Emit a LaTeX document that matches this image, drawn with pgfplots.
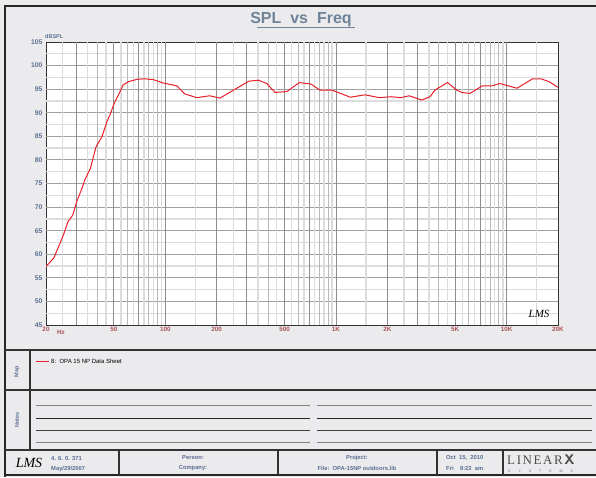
\documentclass[border=0pt]{standalone}
\usepackage{fontspec}
\setmainfont{Liberation Sans}
\newfontfamily\seriffont{Liberation Serif}
\usepackage{pgfplots}
\pgfplotsset{compat=1.18}
\definecolor{bg}{HTML}{EBEBEE}
\definecolor{ttl}{HTML}{6E8298}
\definecolor{ylab}{HTML}{5C7292}
\definecolor{xlab}{HTML}{A85252}
\definecolor{curve}{HTML}{E8202A}
\definecolor{gdark}{HTML}{8E8E8E}
\definecolor{gmed}{HTML}{B8B8B8}
\definecolor{glight}{HTML}{DCDCDC}
\definecolor{ftxt}{HTML}{5A6E90}
\pgfplotstableread{
f db
20 57.4
22.2 59.2
23.7 61.6
25.3 64.1
26.9 66.9
28.7 68.3
30.3 71.2
32.5 74.0
33.8 75.8
36.4 78.2
39.3 82.8
42.5 84.9
45.5 88.1
47.6 89.7
50.3 92.1
53.2 93.8
56.6 95.9
60.9 96.6
68.5 97.1
76 97.2
85.4 97.0
97.5 96.3
117 95.7
130 94.0
153 93.2
182 93.6
209 93.1
251 94.8
309 96.7
352 96.9
393 96.2
440 94.3
516 94.5
610 96.4
712 96.1
806 94.8
947 94.8
1213 93.3
1480 93.8
1800 93.2
2100 93.4
2400 93.2
2680 93.6
3180 92.7
3560 93.4
3800 94.8
4500 96.4
5100 94.8
5470 94.3
6100 94.1
7200 95.7
8200 95.7
9100 96.2
11500 95.2
14200 97.2
15900 97.2
17700 96.6
20000 95.4
}\spl
\begin{document}
\begin{tikzpicture}
\path[use as bounding box, fill=bg] (0,0) rectangle (596pt,-477pt);
% outer frame
\draw[line width=2.5pt, black!85] (5pt,-477pt) -- (5pt,-6pt) -- (596pt,-6pt);
% title
\node[text=ttl, font=\fontsize{16}{18}\selectfont\bfseries] (T) at (301pt,-20pt) {SPL\ \ vs\ \ Freq};
\draw[ttl, line width=1.2pt] (T.south west)++(10pt,3pt) -- ([yshift=3pt]T.south east);
\node[text=ylab, font=\fontsize{5.5}{6}\selectfont\bfseries, anchor=south west, inner sep=0pt] at (45pt,-39pt) {dBSPL};
\begin{axis}[
  at={(46pt,-325pt)}, anchor=south west,
  scale only axis, width=512pt, height=283pt,
  xmode=log, xmin=20, xmax=20000, ymin=45, ymax=105,
  axis background/.style={fill=white},
  axis line style={draw=black!80, line width=1pt},
  tick style={draw=none},
  xtick={20,50,100,200,500,1000,2000,5000,10000,20000},
  xticklabels={20,50,100,200,500,1K,2K,5K,10K,20K},
  ytick={45,50,...,105},
  /pgf/number format/assume math mode=true,
  x tick label style={font=\fontsize{6.3}{7}\selectfont\bfseries, text=xlab, yshift=1pt},
  y tick label style={font=\fontsize{6.8}{7}\selectfont\bfseries, text=ylab},
  clip=true,
]
% horizontal grid
\pgfplotsinvokeforeach{47.5,52.5,57.5,62.5,67.5,72.5,77.5,82.5,87.5,92.5,97.5,102.5}{
  \draw[glight, line width=1.4pt] (axis cs:20,#1) -- (axis cs:20000,#1);}
\pgfplotsinvokeforeach{50,55,...,100}{
  \draw[gdark!85, line width=0.9pt] (axis cs:20,#1) -- (axis cs:20000,#1);}
% vertical grid
\pgfplotsinvokeforeach{25,35,45,55,65,75,85,95,150,250,350,450,550,650,750,850,950,1500,2500,3500,4500,5500,6500,7500,8500,9500,15000}{
  \draw[glight, line width=1.4pt] (axis cs:#1,45) -- (axis cs:#1,105);}
\pgfplotsinvokeforeach{40,60,80,90,400,600,800,900,4000,6000,8000,9000}{
  \draw[gmed, line width=1.1pt] (axis cs:#1,45) -- (axis cs:#1,105);}
\pgfplotsinvokeforeach{30,50,70,100,200,300,500,700,1000,2000,3000,5000,7000,10000}{
  \draw[gdark, line width=0.9pt] (axis cs:#1,45) -- (axis cs:#1,105);}
\addplot[curve, line width=1pt, no marks] table[x=f, y=db] {\spl};
\end{axis}
\node[text=xlab, font=\fontsize{6.3}{7}\selectfont\bfseries] at (61pt,-332.5pt) {Hz};
\node[font=\fontsize{11}{12}\selectfont\itshape\seriffont, anchor=east] at (553pt,-314pt) {LMS};
% lower boxes
\draw[line width=2pt, black!80] (5pt,-350pt) -- (596pt,-350pt);
\draw[line width=2pt, black!80] (5pt,-390pt) -- (596pt,-390pt);
\draw[line width=2pt, black!80] (5pt,-450pt) -- (596pt,-450pt);
\draw[line width=2pt, black!85] (5pt,-475pt) -- (596pt,-475pt);
\draw[line width=1.2pt, black!80] (30pt,-350pt) -- (30pt,-450pt);
\node[rotate=90, text=ftxt, font=\fontsize{5.5}{6}\selectfont\bfseries] at (17pt,-372pt) {Map};
\node[rotate=90, text=ftxt, font=\fontsize{5.5}{6}\selectfont\bfseries] at (17pt,-420pt) {Notes};
\draw[curve, line width=1pt] (36pt,-361pt) -- (49pt,-361pt);
\node[anchor=west, font=\fontsize{6}{7}\selectfont, inner sep=0pt] at (51pt,-361pt) {8:\ \ OPA 15 NP Data Sheet};
% notes lines
\foreach \y/\c in {405.7/gray, 418.3/black!85, 430.5/black!75, 442.3/gray}{
  \draw[\c, line width=0.8pt] (36pt,-\y pt) -- (310pt,-\y pt);
  \draw[\c, line width=0.8pt] (317pt,-\y pt) -- (592pt,-\y pt);
}
% footer
\foreach \x in {119,278,437,503}{\draw[line width=1.5pt, black!80] (\x pt,-450pt) -- (\x pt,-475pt);}
\node[font=\fontsize{14}{15}\selectfont\itshape\seriffont] at (29pt,-463pt) {LMS};
\node[anchor=west, text=ftxt, font=\fontsize{5.8}{6.5}\selectfont\bfseries, inner sep=0pt] at (51pt,-458pt) {4. 6. 0. 371};
\node[anchor=west, text=ftxt, font=\fontsize{5.8}{6.5}\selectfont\bfseries, inner sep=0pt] at (51pt,-468.5pt) {May/29/2007};
\node[text=ftxt, font=\fontsize{5.8}{6.5}\selectfont\bfseries, inner sep=0pt] at (193pt,-458pt) {Person:};
\node[text=ftxt, font=\fontsize{5.8}{6.5}\selectfont\bfseries, inner sep=0pt] at (193pt,-468.5pt) {Company:};
\node[text=ftxt, font=\fontsize{5.8}{6.5}\selectfont\bfseries, inner sep=0pt] at (357pt,-458pt) {Project:};
\node[text=ftxt, font=\fontsize{5.8}{6.5}\selectfont\bfseries, inner sep=0pt] at (357pt,-468.5pt) {File:\ \ OPA-15NP outdoors.lib};
\node[anchor=west, text=ftxt, font=\fontsize{5.8}{6.5}\selectfont\bfseries, inner sep=0pt] at (446pt,-458pt) {Oct\ \ 15,\ \ 2010};
\node[anchor=west, text=ftxt, font=\fontsize{5.8}{6.5}\selectfont\bfseries, inner sep=0pt] at (446pt,-468.5pt) {Fri\ \ \ \ 8:22\ \ am};
\node[anchor=west, inner sep=0pt, text=black!70, font=\fontsize{13}{14}\selectfont\seriffont] at (507pt,-460pt) {L\hspace{1.6pt}I\hspace{1.6pt}N\hspace{1.6pt}E\hspace{1.6pt}A\hspace{1.6pt}R\hspace{1.6pt}{\fontsize{14}{15}\selectfont\bfseries\sffamily X}};
\node[anchor=west, inner sep=0pt, text=black!60, font=\fontsize{3.5}{4}\selectfont] at (508pt,-471pt) {S\hspace{8pt}Y\hspace{8pt}S\hspace{8pt}T\hspace{8pt}E\hspace{8pt}M\hspace{8pt}S};
\end{tikzpicture}
\end{document}
